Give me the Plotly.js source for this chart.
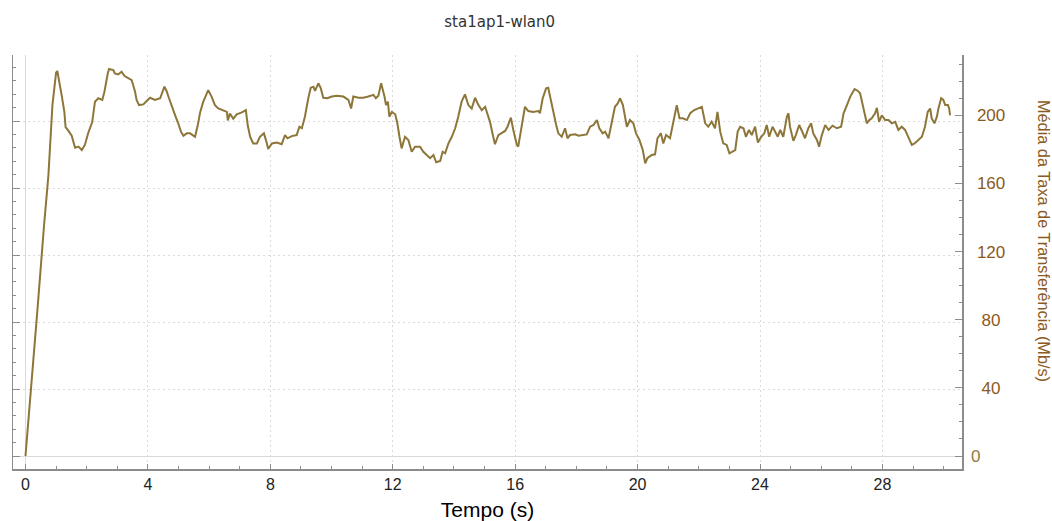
<!DOCTYPE html>
<html><head><meta charset="utf-8">
<script src="https://cdn.plot.ly/plotly-3.0.1.min.js"></script>
<style>html,body{margin:0;padding:0;background:#fff}#chart{width:1052px;height:521px}</style>
</head><body><div id="chart"></div>
<script>
const chartTitle = 'sta1ap1-wlan0';
const xTitle = 'Tempo (s)';
const yTitle = 'Média da Taxa de Transferência (Mb/s)';

const timeS = [0,0.2,0.4,0.6,0.75,0.88,1.0,1.04,1.13,1.18,1.27,1.31,1.40,1.51,1.62,1.73,1.84,1.94,2.05,2.18,2.27,2.38,2.51,2.58,2.69,2.73,2.87,2.92,3.03,3.14,3.23,3.36,3.47,3.58,3.63,3.71,3.85,3.96,4.07,4.23,4.40,4.54,4.61,4.69,4.78,4.89,4.99,5.08,5.16,5.27,5.38,5.54,5.63,5.71,5.81,5.89,5.97,6.08,6.19,6.30,6.46,6.58,6.61,6.68,6.79,6.90,7.07,7.20,7.26,7.34,7.44,7.56,7.66,7.79,7.88,7.93,8.05,8.21,8.37,8.48,8.56,8.70,8.86,8.95,9.03,9.13,9.24,9.32,9.41,9.46,9.57,9.65,9.73,9.86,10.01,10.17,10.39,10.55,10.64,10.71,10.88,11.04,11.20,11.37,11.45,11.53,11.62,11.67,11.73,11.78,11.84,11.89,11.97,12.08,12.15,12.22,12.29,12.40,12.51,12.62,12.73,12.89,13.00,13.11,13.22,13.33,13.42,13.55,13.63,13.71,13.82,13.93,14.04,14.14,14.25,14.36,14.47,14.58,14.69,14.80,14.91,15.02,15.09,15.18,15.27,15.34,15.45,15.56,15.67,15.75,15.86,15.94,16.05,16.10,16.22,16.32,16.43,16.59,16.76,16.81,16.90,17.01,17.08,17.16,17.25,17.34,17.41,17.52,17.63,17.71,17.79,17.96,18.07,18.18,18.34,18.45,18.56,18.67,18.75,18.86,18.94,19.05,19.16,19.26,19.35,19.43,19.52,19.59,19.65,19.75,19.86,19.95,20.06,20.17,20.25,20.32,20.46,20.57,20.65,20.76,20.84,20.93,21.06,21.17,21.28,21.37,21.48,21.61,21.72,21.85,21.99,22.10,22.21,22.31,22.42,22.53,22.61,22.70,22.80,22.91,23.00,23.08,23.19,23.27,23.35,23.46,23.54,23.64,23.73,23.84,23.93,24.04,24.14,24.22,24.30,24.41,24.49,24.58,24.66,24.76,24.88,24.93,24.98,25.09,25.17,25.28,25.37,25.47,25.58,25.67,25.74,25.86,25.93,26.02,26.13,26.24,26.37,26.51,26.65,26.73,26.84,26.95,27.09,27.20,27.27,27.33,27.41,27.49,27.57,27.65,27.76,27.82,27.89,27.98,28.09,28.20,28.31,28.42,28.52,28.63,28.74,28.85,28.96,29.05,29.16,29.29,29.39,29.48,29.56,29.61,29.70,29.78,29.83,29.92,29.99,30.05,30.14,30.18,30.21];

const rateMbps = [0,42,88,134,165,206,225,226,218,212,202,193,191,188,181,181.6,179.6,182.6,189.6,196,208,210,209,213.9,224.7,227.2,226.6,224.6,224,225.6,223.2,222,220.7,213.9,209,206,206.4,208.4,210.3,209,210,216.8,214.3,210,206,200,195.3,190.4,188,189.4,189.4,187.4,194.3,202,208,211,214.8,211,206,204,203,202,197,201,198,200.6,201.7,203,194.3,187.4,183.5,183.5,187.4,189.4,184,180.2,183.5,184,183,188.4,186.5,187.8,188.4,193.3,192.4,199.2,210,216.2,216.8,214.3,218.8,215.8,210.3,210,211,211.5,211,209,204,211,210.3,210.3,211,212,210,211.5,218.8,215.8,211,206,208,199.2,202,200.6,195.3,187.4,180.6,187.4,185.5,178.6,181.6,181.6,178.6,176.7,174.8,176.7,172.4,173.2,178.6,177.7,183.5,187.4,192.4,199.2,208,212.3,206,204,210.3,206,203,205,201.2,196,188.4,183,188.4,189.4,190.8,193.3,198.6,191.4,183,181.6,194.3,205,202.5,202,202.5,201.2,210,215.8,216.2,209,201.2,194.3,189.4,187.4,192.4,186.5,188.4,188.8,188,188.4,188.8,193.3,194.3,197.2,192.4,189.4,190.4,186.5,196.2,205,207,210,206,199.2,193.3,197.2,195.3,189.4,185.5,179.6,171.8,174.8,176.7,177.1,186.5,189.4,183.5,188.4,186.5,196.2,206,198.2,198.2,197.2,201.2,203.1,204.4,205,195.3,193.3,196.2,192.4,202,190.4,183.5,182.6,177.7,178.6,179.6,190.4,193.3,192.4,187.4,191.4,188.4,193.3,184,187.4,189.4,194.3,187.4,193.3,190.4,187.4,191.4,187.4,199.2,201.2,193.3,185,188.4,194.3,190.8,186.5,192.4,195.3,189.4,185.5,181.6,188.4,194.3,191.4,193.9,192.4,193.3,201.2,206,211,215.4,214.3,212.9,208,201.2,195.3,197.2,198.2,201.2,204.4,196.2,200,197.2,197.2,195.3,196.2,191.4,193.3,191.4,187.4,182.6,183.5,185.5,187.4,193.3,202,204,198.2,195.3,199.2,204,210,209,206,206,204,200];

const xTickStep = 4;
const rightTickVals = [40, 80, 120, 160, 200];
const rightTickText = ['\u00A040', '\u00A080', '120', '160', '200'];
const zeroTickVals = [0];
const zeroTickText = ['0'];

const lineColor = '#8d7639';
const brown = '#8a5a22';
const olive = '#8e7a3a';
const axisGray = '#8c8c8c';
const gridGray = '#dadada';

const rightRange = [-7.63, 235.4];
const leftRange = [-7.76, 239.4];

const baseTrace = {x: [], y: [], type: 'scatter', mode: 'lines', xaxis: 'x', yaxis: 'y', showlegend: false, hoverinfo: 'skip'};
const dataTrace = {
  x: timeS, y: rateMbps, type: 'scatter', mode: 'lines',
  xaxis: 'x', yaxis: 'y2',
  line: {color: lineColor, width: 2},
  hoverinfo: 'skip', showlegend: false
};
const zeroTrace = {x: [], y: [], type: 'scatter', mode: 'lines', xaxis: 'x', yaxis: 'y3', showlegend: false, hoverinfo: 'skip'};

const layout = {
  width: 1052, height: 521,
  margin: {l: 13, r: 90, t: 55, b: 52, pad: 0},
  paper_bgcolor: '#fff', plot_bgcolor: '#fff',
  showlegend: false,
  font: {family: 'Liberation Sans, Arial, sans-serif', color: '#222'},
  title: {text: chartTitle, x: 499.7/1052, xref: 'container', xanchor: 'center',
          y: 1 - 22/521, yref: 'container', yanchor: 'middle',
          font: {family: 'DejaVu Sans, sans-serif', size: 15, color: '#333'}},
  xaxis: {
    range: [-0.408, 30.60], dtick: xTickStep, tick0: 0,
    ticks: 'inside', ticklen: 5, tickcolor: axisGray, tickwidth: 1,
    showline: true, linecolor: axisGray, linewidth: 1.5,
    showgrid: true, gridcolor: gridGray, griddash: '2px,3px', gridwidth: 1,
    zeroline: true, zerolinecolor: gridGray, zerolinewidth: 1,
    tickfont: {size: 16, color: '#222'},
    minor: {dtick: 1, ticks: 'inside', ticklen: 3, tickcolor: axisGray, showgrid: false},
    title: {text: xTitle, font: {size: 21, color: '#000'}, standoff: 11},
    fixedrange: true
  },
  yaxis: {
    range: leftRange, dtick: 40, tick0: 0,
    ticks: 'inside', ticklen: 7, tickcolor: axisGray, tickwidth: 1,
    showticklabels: false,
    showline: true, linecolor: axisGray, linewidth: 1.5,
    showgrid: true, gridcolor: gridGray, griddash: '2px,3px', gridwidth: 1,
    zeroline: true, zerolinecolor: gridGray, zerolinewidth: 1,
    minor: {dtick: 8, ticks: 'inside', ticklen: 3, tickcolor: axisGray, showgrid: false},
    fixedrange: true
  },
  yaxis2: {
    overlaying: 'y', side: 'right', anchor: 'x',
    range: rightRange, tickmode: 'array', tickvals: rightTickVals, ticktext: rightTickText,
    ticks: 'inside', ticklen: 7, tickcolor: axisGray, tickwidth: 1,
    showline: true, linecolor: axisGray, linewidth: 1.5,
    showgrid: false, zeroline: false,
    tickfont: {size: 17, color: brown},
    ticklabelstandoff: 10,
    minor: {tickmode: 'linear', tick0: 0, dtick: 10, ticks: 'inside', ticklen: 3, tickcolor: axisGray, showgrid: false},
    fixedrange: true
  },
  yaxis3: {
    overlaying: 'y', side: 'right', anchor: 'x',
    range: rightRange, tickmode: 'array', tickvals: zeroTickVals, ticktext: zeroTickText,
    ticks: 'inside', ticklen: 7, tickcolor: axisGray,
    showline: false, showgrid: false, zeroline: false,
    tickfont: {size: 17, color: olive},
    ticklabelstandoff: 8,
    fixedrange: true
  },
  annotations: [{
    text: yTitle, xref: 'paper', yref: 'paper',
    x: (1044 - 13) / 949, y: (469 - 241) / 414,
    xanchor: 'center', yanchor: 'middle', textangle: 90, showarrow: false,
    font: {size: 16.3, color: brown}
  }]
};

Plotly.newPlot('chart', [baseTrace, dataTrace, zeroTrace], layout, {staticPlot: true, displayModeBar: false});
</script>
</body></html>
